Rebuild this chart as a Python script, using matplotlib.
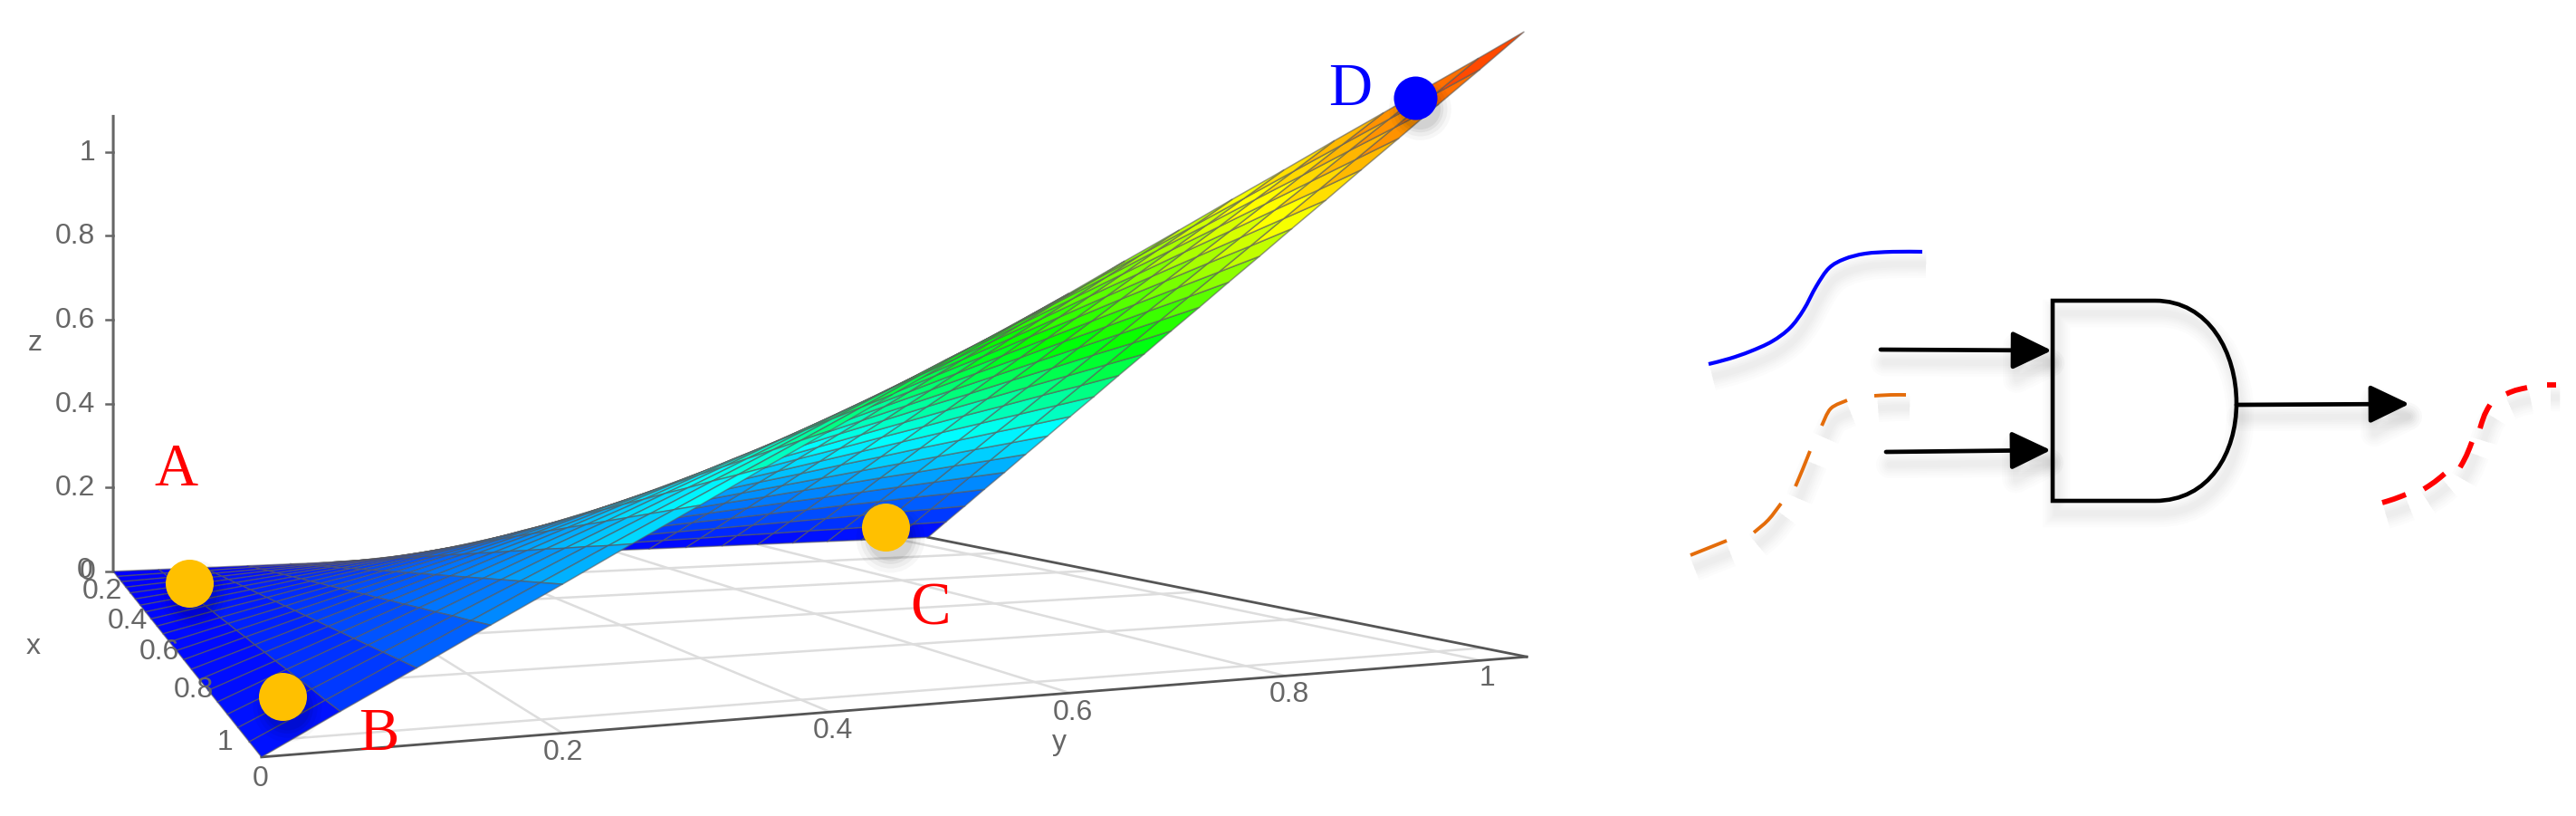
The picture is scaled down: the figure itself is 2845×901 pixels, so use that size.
"""AND-gate product surface (left) with the gate sketch (right)."""
import numpy as np
import matplotlib
matplotlib.use("Agg")
import matplotlib.pyplot as plt
import matplotlib.patheffects as pe
from matplotlib.collections import PolyCollection
from matplotlib.colors import LinearSegmentedColormap
from matplotlib.path import Path
from matplotlib.patches import PathPatch

plt.rcParams["font.family"] = ["Liberation Sans", "DejaVu Sans"]

W, H = 2845, 901
GRAY = "#666666"

# surface samples, x along rows and y along columns (axes run a little past 1)
x_grid = [0, .05, .1, .15, .2, .25, .3, .35, .4, .45, .5, .55, .6, .65, .7, .75, .8, .85, .9, .95, 1, 1.05]
y_grid = [0, .05, .1, .15, .2, .25, .3, .35, .4, .45, .5, .55, .6, .65, .7, .75, .8, .85, .9, .95, 1, 1.05]
z_table = [
    [0, 0, 0, 0, 0, 0, 0, 0, 0, 0, 0, 0, 0, 0, 0, 0, 0, 0, 0, 0, 0, 0],
    [0, .003, .005, .008, .01, .013, .015, .018, .02, .023, .025, .028, .03, .033, .035, .038, .04, .043, .045, .048, .05, .053],
    [0, .005, .01, .015, .02, .025, .03, .035, .04, .045, .05, .055, .06, .065, .07, .075, .08, .085, .09, .095, .1, .105],
    [0, .008, .015, .023, .03, .038, .045, .053, .06, .068, .075, .083, .09, .098, .105, .113, .12, .128, .135, .143, .15, .158],
    [0, .01, .02, .03, .04, .05, .06, .07, .08, .09, .1, .11, .12, .13, .14, .15, .16, .17, .18, .19, .2, .21],
    [0, .013, .025, .038, .05, .063, .075, .088, .1, .113, .125, .138, .15, .163, .175, .188, .2, .213, .225, .238, .25, .263],
    [0, .015, .03, .045, .06, .075, .09, .105, .12, .135, .15, .165, .18, .195, .21, .225, .24, .255, .27, .285, .3, .315],
    [0, .018, .035, .053, .07, .088, .105, .123, .14, .158, .175, .193, .21, .228, .245, .263, .28, .298, .315, .333, .35, .368],
    [0, .02, .04, .06, .08, .1, .12, .14, .16, .18, .2, .22, .24, .26, .28, .3, .32, .34, .36, .38, .4, .42],
    [0, .023, .045, .068, .09, .113, .135, .158, .18, .203, .225, .248, .27, .293, .315, .338, .36, .383, .405, .428, .45, .473],
    [0, .025, .05, .075, .1, .125, .15, .175, .2, .225, .25, .275, .3, .325, .35, .375, .4, .425, .45, .475, .5, .525],
    [0, .028, .055, .083, .11, .138, .165, .193, .22, .248, .275, .303, .33, .358, .385, .413, .44, .468, .495, .523, .55, .578],
    [0, .03, .06, .09, .12, .15, .18, .21, .24, .27, .3, .33, .36, .39, .42, .45, .48, .51, .54, .57, .6, .63],
    [0, .033, .065, .098, .13, .163, .195, .228, .26, .293, .325, .358, .39, .423, .455, .488, .52, .553, .585, .618, .65, .683],
    [0, .035, .07, .105, .14, .175, .21, .245, .28, .315, .35, .385, .42, .455, .49, .525, .56, .595, .63, .665, .7, .735],
    [0, .038, .075, .113, .15, .188, .225, .263, .3, .338, .375, .413, .45, .488, .525, .563, .6, .638, .675, .713, .75, .788],
    [0, .04, .08, .12, .16, .2, .24, .28, .32, .36, .4, .44, .48, .52, .56, .6, .64, .68, .72, .76, .8, .84],
    [0, .043, .085, .128, .17, .213, .255, .298, .34, .383, .425, .468, .51, .553, .595, .638, .68, .723, .765, .808, .85, .893],
    [0, .045, .09, .135, .18, .225, .27, .315, .36, .405, .45, .495, .54, .585, .63, .675, .72, .765, .81, .855, .9, .945],
    [0, .048, .095, .143, .19, .238, .285, .333, .38, .428, .475, .523, .57, .618, .665, .713, .76, .808, .855, .903, .95, .998],
    [0, .05, .1, .15, .2, .25, .3, .35, .4, .45, .5, .55, .6, .65, .7, .75, .8, .85, .9, .95, 1, 1.05],
    [0, .053, .105, .158, .21, .263, .315, .368, .42, .473, .525, .578, .63, .683, .735, .788, .84, .893, .945, .998, 1.05, 1.103],
]
floor_ticks = [.2, .4, .6, .8, 1]
axis_end = 1.05
z_axis_end = 1.085

z_ticks = [0, .2, .4, .6, .8, 1]
z_labels = ["0", "0.2", "0.4", "0.6", "0.8", "1"]
x_labels = ["0.2", "0.4", "0.6", "0.8", "1"]
y_labels = ["0", "0.2", "0.4", "0.6", "0.8", "1"]

# view calibration: known (x, y, z) spots and where they land in the image
# the box corners count for more than the points along the front edge
view_xyz = [(0, 0, 0), (1.05, 0, 0), (1.05, 1.05, 0), (0, 1.05, 0), (0, 0, 1), (1.05, 1.05, 1.103),
            (1.05, .2, 0), (1.05, .4, 0), (1.05, .6, 0), (1.05, .8, 0),
            (1.05, .05, .053), (1.05, .1, .105), (1.05, .15, .158), (1.05, .2, .21)]
view_px = [(125, 631), (288, 836), (1686, 726), (1025, 593), (125, 168), (1683, 35),
           (618, 808), (914, 785), (1177, 763), (1414, 743),
           (384, 782), (478, 728), (567, 677), (652, 628)]
view_weight = [8, 8, 8, 8, 8, 8, 1, 1, 1, 1, 1, 1, 1, 1]

# marker dots and letters, image pixels
dot_names = ["A", "B", "C", "D"]
dot_x = [209, 312, 978, 1563]
dot_y = [644, 769, 582, 108]
dot_colors = ["#FFC000", "#FFC000", "#FFC000", "#0000FF"]
letter_x = [194, 418, 1027, 1491]
letter_y = [520, 812, 673, 99]
letter_colors = ["#FF0000", "#FF0000", "#FF0000", "#0000FF"]

# gate sketch traces
blue_trace = [(1887, 402), (1910, 396), (1933, 388), (1957, 377), (1977, 362), (1992, 342),
              (2006, 316), (2020, 296), (2037, 286), (2060, 280), (2090, 278), (2123, 278)]
orange_dashes = [
    [(1867, 613), (1887, 605), (1907, 597)],
    [(1937, 588), (1953, 574), (1967, 556)],
    [(1983, 537), (1991, 518), (1999, 498)],
    [(2012, 470), (2022, 451), (2040, 442)],
    [(2070, 437), (2088, 436), (2105, 436)],
]
red_dashes = [
    [(2631, 555), (2644, 551), (2657, 546)],
    [(2677, 540), (2689, 532), (2700, 523)],
    [(2717, 516), (2724, 503), (2730, 488)],
    [(2739, 473), (2744, 458), (2750, 447)],
    [(2768, 435), (2778, 431), (2791, 428)],
    [(2813, 425), (2823, 425)],
]
gate_arrows = [((2077, 386), (2266, 387)), ((2083, 499), (2265, 497)), ((2470, 447), (2661, 446))]


def fit_view(xyz, px, weight):
    rows, rhs = [], []
    for (x, y, z), (u, v), k in zip(xyz, px, weight):
        rows.append([k * c for c in (x, y, z, 1, 0, 0, 0, 0, -u * x, -u * y, -u * z)])
        rows.append([k * c for c in (0, 0, 0, 0, x, y, z, 1, -v * x, -v * y, -v * z)])
        rhs += [k * u, k * v]
    p = np.linalg.lstsq(np.array(rows, float), np.array(rhs, float), rcond=None)[0]
    return np.append(p, 1).reshape(3, 4)


P = fit_view(view_xyz, view_px, view_weight)


def project(x, y, z):
    u, v, w = P @ np.array([x, y, z, 1.0])
    return u / w, v / w, w


def pt(x, y, z=0):
    return project(x, y, z)[:2]


def soft():
    # wide faint strokes, offset downwards, for the drop shadow
    fx = [pe.SimpleLineShadow(offset=(3, -10), alpha=.012, shadow_color="k", linewidth=lw)
          for lw in (22, 18, 14, 11, 8, 5)]
    return fx + [pe.Normal()]


def smooth(points):
    pts = np.array(points, float)
    verts, codes = [pts[0]], [Path.MOVETO]
    for k in range(len(pts) - 1):
        p0, p1, p2, p3 = pts[max(k - 1, 0)], pts[k], pts[k + 1], pts[min(k + 2, len(pts) - 1)]
        verts += [p1 + (p2 - p0) / 6, p2 - (p3 - p1) / 6, p2]
        codes += [Path.CURVE4] * 3
    return Path(verts, codes)


jet = LinearSegmentedColormap.from_list("surf", [
    (0, "#0000FF"), (.3, "#00FFFF"), (.5, "#00FF00"), (.73, "#FFFF00"), (1, "#FF2200")])

fig = plt.figure(figsize=(W / 100, H / 100), dpi=100)
ax = fig.add_axes([0, 0, 1, 1])
ax.set_xlim(0, W)
ax.set_ylim(H, 0)
ax.axis("off")

# floor grid and box edges
for t in floor_ticks:
    ax.plot(*zip(pt(t, 0), pt(t, axis_end)), color="#DDDDDD", lw=1.8, zorder=1)
    ax.plot(*zip(pt(0, t), pt(axis_end, t)), color="#DDDDDD", lw=1.8, zorder=1)
for a, b in [((axis_end, 0), (axis_end, axis_end)), ((0, axis_end), (axis_end, axis_end))]:
    ax.plot(*zip(pt(*a), pt(*b)), color="#555555", lw=2, zorder=1.5)

# z axis
ax.plot(*zip(pt(0, 0, 0), pt(0, 0, z_axis_end)), color=GRAY, lw=2.2, zorder=1.5)
for t, lab in zip(z_ticks, z_labels):
    u, v = pt(0, 0, t)
    ax.plot([u - 8, u], [v, v], color=GRAY, lw=1.8, zorder=1.5)
    ax.text(u - 20, v + 1, lab, ha="right", va="center", fontsize=23, color=GRAY)
ax.text(102, 630, "0", ha="right", va="center", fontsize=23, color=GRAY)

# tick labels on the floor edges, placed by hand around the axes
x_lab_px = [(113, 653), (141, 686), (176, 720), (214, 762), (249, 820)]
for (u, v), lab in zip(x_lab_px, x_labels):
    ax.text(u, v, lab, ha="center", va="center", fontsize=23, color=GRAY)
y_lab_px = [(288, 860), (622, 831), (920, 807), (1185, 787), (1424, 767), (1642, 749)]
for (u, v), lab in zip(y_lab_px, y_labels):
    ax.text(u, v, lab, ha="center", va="center", fontsize=23, color=GRAY)
ax.text(37, 714, "x", ha="center", va="center", fontsize=23, color=GRAY)
ax.text(1170, 820, "y", ha="center", va="center", fontsize=23, color=GRAY)
ax.text(39, 379, "z", ha="center", va="center", fontsize=23, color=GRAY)

# surface, far cells first
Z = np.array(z_table)
cells, vals, depth = [], [], []
for i in range(len(x_grid) - 1):
    for j in range(len(y_grid) - 1):
        corners = [(i, j), (i + 1, j), (i + 1, j + 1), (i, j + 1)]
        q = [project(x_grid[a], y_grid[b], Z[a, b]) for a, b in corners]
        cells.append([c[:2] for c in q])
        vals.append(np.mean([Z[a, b] for a, b in corners]))
        depth.append(np.mean([c[2] for c in q]))
order = np.argsort(depth)[::-1]
surf = PolyCollection([cells[k] for k in order], facecolors=jet(np.array(vals)[order] / Z.max()),
                      edgecolors=(.35, .35, .35, .6), linewidths=1.1, zorder=2)
ax.add_collection(surf)

# dots and letters
for n, u, v, c in zip(dot_names, dot_x, dot_y, dot_colors):
    d = 48 if n == "D" else 53
    d_pt = d * .72
    for k, a in zip((1.6, 1.4, 1.2, 1.05), (.03, .04, .05, .06)):
        ax.scatter([u + 5], [v + 12], s=(d_pt * k) ** 2 * .8, color="k", alpha=a, linewidths=0, zorder=3)
    ax.scatter([u], [v], s=d_pt ** 2, color=c, linewidths=0, zorder=4)
for n, u, v, c in zip(dot_names, letter_x, letter_y, letter_colors):
    ax.text(u, v, n, ha="center", va="center", fontsize=48, color=c, family="Liberation Serif", zorder=5)

# gate outline
gate = Path([(2267, 332), (2380, 332), (2440, 332), (2470, 390), (2470, 445),
             (2470, 500), (2440, 553), (2380, 553), (2267, 553), (2267, 332)],
            [Path.MOVETO, Path.LINETO, Path.CURVE4, Path.CURVE4, Path.CURVE4,
             Path.CURVE4, Path.CURVE4, Path.CURVE4, Path.LINETO, Path.CLOSEPOLY])
ax.add_patch(PathPatch(gate, fc="none", ec="black", lw=3.3, joinstyle="miter", zorder=6,
                       path_effects=soft()))

for a, b in gate_arrows:
    ann = ax.annotate("", xy=b, xytext=a, zorder=7,
                      arrowprops=dict(arrowstyle="-|>,head_length=27,head_width=13", mutation_scale=1,
                                      shrinkA=0, shrinkB=0, color="black", lw=3.4))
    ann.arrow_patch.set_path_effects(soft())

# traces
ax.add_patch(PathPatch(smooth(blue_trace), fc="none", ec="#0000FF", lw=3, capstyle="butt",
                       path_effects=soft(), zorder=6))
for dash in orange_dashes:
    ax.add_patch(PathPatch(smooth(dash), fc="none", ec="#E46C0A", lw=2.8, capstyle="butt",
                           path_effects=soft(), zorder=6))
for dash in red_dashes:
    ax.add_patch(PathPatch(smooth(dash), fc="none", ec="#FF0000", lw=4.2, capstyle="butt",
                           path_effects=soft(), zorder=6))

fig.savefig("out.png", dpi=100, facecolor="white")
